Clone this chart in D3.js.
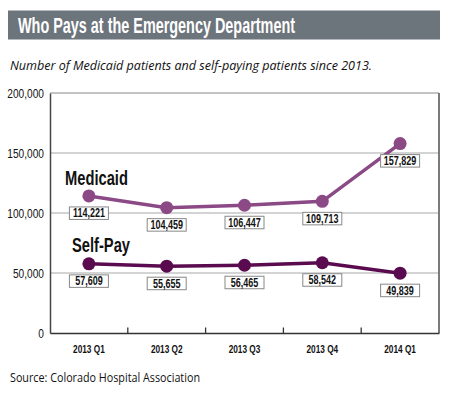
<!DOCTYPE html>
<html>
<head>
<meta charset="utf-8">
<script src="https://cdn.jsdelivr.net/npm/d3@7"></script>
<style>
  body { margin: 0; background: #fff; }
  svg { display: block; }
</style>
</head>
<body>
<svg id="chart" width="450" height="397"></svg>
<script>
const quarters = ['2013 Q1', '2013 Q2', '2013 Q3', '2013 Q4', '2014 Q1'];
const medicaid = [114221, 104459, 106447, 109713, 157829];
const selfPay  = [57609, 55655, 56465, 58542, 49839];
const yTicks   = [0, 50000, 100000, 150000, 200000];

const FONT = '"Liberation Sans", Arial, sans-serif';

const svg = d3.select('#chart');
const margin = { left: 50, right: 11, top: 93, bottom: 64 };
const W = 450, H = 397;

// squeeze text horizontally to imitate a condensed face
function condense(sel, k) {
  sel.each(function () {
    const len = this.getComputedTextLength();
    d3.select(this).attr('textLength', len * k).attr('lengthAdjust', 'spacingAndGlyphs');
  });
}

// title bar
svg.append('rect')
  .attr('x', 8).attr('y', 10.5).attr('width', 432).attr('height', 29)
  .attr('fill', '#6c747c');
svg.append('text')
  .attr('x', 18).attr('y', 32.5)
  .attr('fill', '#fff')
  .attr('font-family', FONT)
  .attr('font-size', 22).attr('font-weight', 'bold')
  .attr('textLength', 277).attr('lengthAdjust', 'spacingAndGlyphs')
  .text('Who Pays at the Emergency Department');

svg.append('text')
  .attr('x', 10).attr('y', 70)
  .attr('font-family', '"Open Sans", sans-serif')
  .attr('font-style', 'italic')
  .attr('font-size', 13.5)
  .attr('fill', '#111')
  .attr('textLength', 362).attr('lengthAdjust', 'spacingAndGlyphs')
  .text('Number of Medicaid patients and self-paying patients since 2013.');

const x = d3.scaleBand()
  .domain(quarters)
  .range([margin.left, W - margin.right]);

const y = d3.scaleLinear()
  .domain([0, 200000])
  .range([H - margin.bottom, margin.top]);

// grid lines
svg.append('g')
  .selectAll('line')
  .data(yTicks.filter(d => d > 0 && d < 200000))
  .join('line')
    .attr('x1', margin.left).attr('x2', W - margin.right)
    .attr('y1', d => y(d)).attr('y2', d => y(d))
    .attr('stroke', '#a8a8a8').attr('stroke-width', 1);

// top + right border
svg.append('line')
  .attr('x1', margin.left).attr('x2', W - margin.right)
  .attr('y1', y(200000)).attr('y2', y(200000))
  .attr('stroke', '#8a8a8a').attr('stroke-width', 1.2);
svg.append('line')
  .attr('x1', W - margin.right).attr('x2', W - margin.right)
  .attr('y1', y(200000)).attr('y2', y(0))
  .attr('stroke', '#7a7a7a').attr('stroke-width', 2);

// y axis
const yAxis = svg.append('g')
  .attr('transform', `translate(${margin.left},0)`)
  .call(d3.axisLeft(y).tickValues(yTicks).tickSize(0).tickPadding(6)
    .tickFormat(d3.format(',')));
yAxis.select('.domain').attr('stroke', '#444').attr('stroke-width', 1.5);
yAxis.selectAll('text')
  .attr('font-family', FONT)
  .attr('font-size', 13).attr('fill', '#111')
  .call(condense, 0.78);

// x axis: ticks sit between the quarters
const xAxis = svg.append('g')
  .attr('transform', `translate(0,${y(0)})`)
  .call(d3.axisBottom(x).tickSize(0).tickPadding(12));
xAxis.select('.domain').attr('stroke', '#333').attr('stroke-width', 1.5);
xAxis.selectAll('text')
  .attr('font-family', FONT)
  .attr('font-size', 11).attr('font-weight', 'bold').attr('fill', '#111')
  .call(condense, 0.75);
xAxis.selectAll('line.sep')
  .data(quarters.slice(1))
  .join('line')
    .attr('class', 'sep')
    .attr('x1', d => x(d)).attr('x2', d => x(d))
    .attr('y1', 0).attr('y2', -5.5)
    .attr('stroke', '#333').attr('stroke-width', 1.3);

const cx = q => x(q) + x.bandwidth() / 2;

function drawSeries(values, color, name, labelPos) {
  const g = svg.append('g');
  g.append('path')
    .datum(values)
    .attr('fill', 'none')
    .attr('stroke', color)
    .attr('stroke-width', 3.5)
    .attr('d', d3.line().x((d, i) => cx(quarters[i])).y(d => y(d)));
  g.selectAll('circle')
    .data(values)
    .join('circle')
      .attr('cx', (d, i) => cx(quarters[i]))
      .attr('cy', d => y(d))
      .attr('r', 6.5)
      .attr('fill', color);

  const lab = g.selectAll('g.lab')
    .data(values)
    .join('g')
      .attr('class', 'lab')
      .attr('transform', (d, i) => `translate(${cx(quarters[i])},${y(d) + 11})`);
  lab.append('rect')
    .attr('x', -19.5).attr('y', 0).attr('width', 39).attr('height', 12.5)
    .attr('fill', '#fff').attr('stroke', '#888').attr('stroke-width', 1);
  lab.append('text')
    .attr('text-anchor', 'middle')
    .attr('y', 10.5)
    .attr('font-family', FONT)
    .attr('font-size', 12.5).attr('font-weight', 'bold').attr('fill', '#111')
    .text(d => d3.format(',')(d))
    .call(condense, 0.72);

  svg.append('text')
    .attr('x', labelPos[0]).attr('y', labelPos[1])
    .attr('font-family', FONT)
    .attr('font-size', 21).attr('font-weight', 'bold').attr('fill', '#111')
    .text(name)
    .call(condense, 0.7);
}

drawSeries(medicaid, '#8b4a86', 'Medicaid', [65, 185]);
drawSeries(selfPay, '#5a0a4e', 'Self-Pay', [72, 252]);

svg.append('text')
  .attr('x', 10).attr('y', 382)
  .attr('font-family', '"Open Sans", sans-serif')
  .attr('font-size', 12).attr('fill', '#111')
  .attr('textLength', 190).attr('lengthAdjust', 'spacingAndGlyphs')
  .text('Source: Colorado Hospital Association');
</script>
</body>
</html>
